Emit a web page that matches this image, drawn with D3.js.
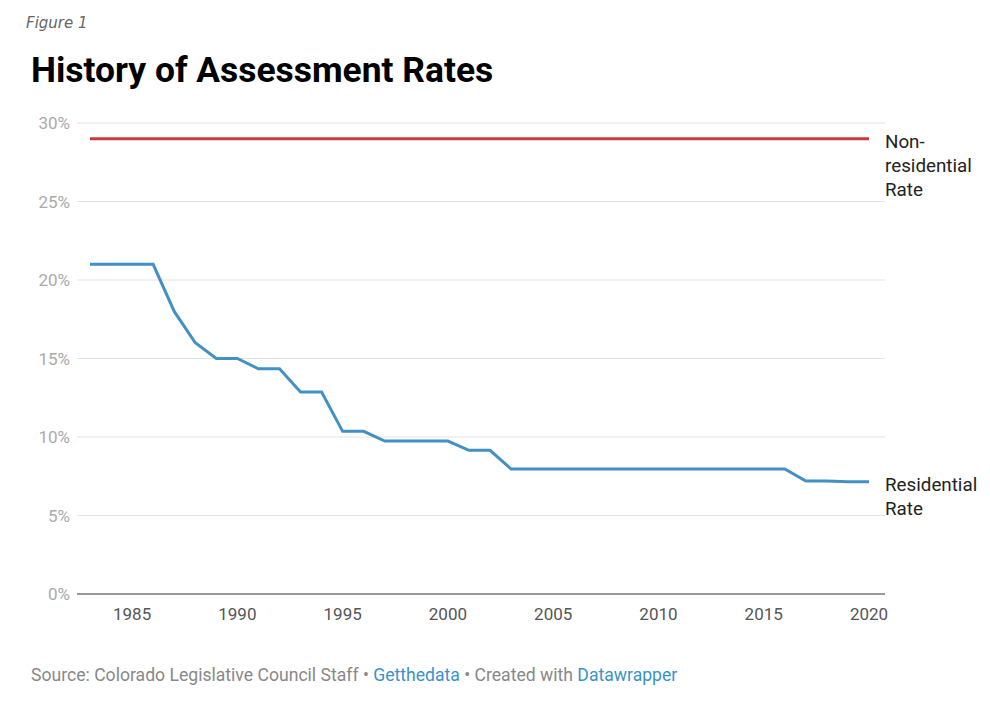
<!DOCTYPE html><html><head><meta charset="utf-8"><script src="https://cdn.jsdelivr.net/npm/d3@7"></script>
<style>body{margin:0;background:#fff}</style></head><body><svg id="c" width="990" height="701"></svg>
<script>
const years=d3.range(1983,2021);
const residential=[21,21,21,21,18,16,15,15,14.34,14.34,12.86,12.86,10.36,10.36,9.74,9.74,9.74,9.74,9.15,9.15,7.96,7.96,7.96,7.96,7.96,7.96,7.96,7.96,7.96,7.96,7.96,7.96,7.96,7.96,7.2,7.2,7.15,7.15];
const nonresidential=years.map(()=>29);
const yTicks=[0,5,10,15,20,25,30];
const xTicks=[1985,1990,1995,2000,2005,2010,2015,2020];
const svg=d3.select("#c");
const x=d3.scaleLinear().domain([1983,2020]).range([90,869]);
const y=d3.scaleLinear().domain([0,30]).range([594,123]);
svg.append("text").attr("x",26).attr("y",28).attr("font-family","DejaVu Sans").attr("font-style","italic").attr("font-size",15).attr("fill","#666").text("Figure 1");
svg.append("text").attr("x",31).attr("y",82).attr("font-family","Roboto").attr("font-weight","bold").attr("font-size",35.4).attr("fill","#000").text("History of Assessment Rates");
yTicks.forEach(t=>{
 svg.append("line").attr("x1",77).attr("x2",885).attr("y1",y(t)).attr("y2",y(t)).attr("stroke",t==0?"#333":"#e3e3e3").attr("stroke-width",1);
 svg.append("text").attr("x",70).attr("y",y(t)+6).attr("text-anchor","end").attr("font-family","Roboto").attr("font-size",17).attr("fill","#aaa").text(t+"%");
});
xTicks.forEach(t=>svg.append("text").attr("x",x(t)).attr("y",620).attr("text-anchor","middle").attr("font-family","Roboto").attr("font-size",17).attr("fill","#555").text(t));
const line=d3.line().x((d,i)=>x(years[i])).y(d=>y(d));
svg.append("path").datum(nonresidential).attr("d",line).attr("fill","none").attr("stroke","#c83a3f").attr("stroke-width",3);
svg.append("path").datum(residential).attr("d",line).attr("fill","none").attr("stroke","#4390c5").attr("stroke-width",3);
function lab(lines,y0){lines.forEach((l,i)=>svg.append("text").attr("x",885).attr("y",y0+i*24).attr("font-family","Roboto").attr("font-size",18.8).attr("fill","#222").text(l));}
lab(["Non-","residential","Rate"],148);
lab(["Residential","Rate"],491);
const s=svg.append("text").attr("x",31).attr("y",681).attr("font-family","Roboto").attr("font-size",17.6).attr("fill","#888");
s.append("tspan").text("Source: Colorado Legislative Council Staff • ");
s.append("tspan").attr("fill","#3a93c6").text("Getthedata");
s.append("tspan").text(" • Created with ");
s.append("tspan").attr("fill","#3a93c6").text("Datawrapper");
</script></body></html>
